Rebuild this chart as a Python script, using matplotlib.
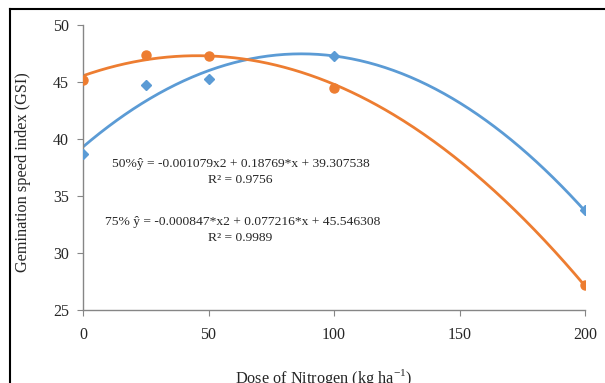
import numpy as np
import matplotlib
matplotlib.use("Agg")
import matplotlib.pyplot as plt
from matplotlib.lines import Line2D

plt.rcParams['font.family'] = ['Liberation Serif', 'DejaVu Serif']
plt.rcParams['mathtext.fontset'] = 'custom'
plt.rcParams['mathtext.rm'] = 'Liberation Serif'

doses = [0, 25, 50, 100, 200]
gsi_50 = [38.65, 44.7, 45.25, 47.25, 33.75]
gsi_75 = [45.2, 47.35, 47.3, 44.5, 27.15]
coef_50 = [-0.001079, 0.18769, 39.307538]
coef_75 = [-0.000847, 0.077216, 45.546308]
eq_50 = "50%ŷ = -0.001079x2 + 0.18769*x + 39.307538"
r2_50 = "R² = 0.9756"
eq_75 = "75% ŷ = -0.000847*x2 + 0.077216*x + 45.546308"
r2_75 = "R² = 0.9989"
xticks = [0, 50, 100, 150, 200]
yticks = [25, 30, 35, 40, 45, 50]

blue = '#5B9BD5'
orange = '#ED7D31'
txt = '#262626'

fig = plt.figure(figsize=(6.05, 3.83), dpi=100)
ax = fig.add_axes([83/605, 1-310/383, (585-83)/605, (310-25)/383])

xs = np.linspace(0, 200, 300)
ax.plot(xs, np.polyval(coef_50, xs), color=blue, lw=2, zorder=2)
ax.plot(xs, np.polyval(coef_75, xs), color=orange, lw=2, zorder=2)
ax.plot(doses, gsi_50, linestyle='none', marker='D', ms=5.5, color=blue, zorder=3)
ax.plot(doses, gsi_75, linestyle='none', marker='o', ms=6.5, color=orange, zorder=3)

ax.set_xlim(0, 200)
ax.set_ylim(25, 50)
ax.set_xticks(xticks)
ax.set_yticks(yticks)
for s in ['top', 'right']:
    ax.spines[s].set_visible(False)
for s in ['left', 'bottom']:
    ax.spines[s].set_color('#868686')
    ax.spines[s].set_linewidth(1.0)
ax.tick_params(axis='both', colors='#868686', labelcolor=txt, length=4, labelsize=11.5)
ax.tick_params(axis='x', pad=8)
ax.tick_params(axis='y', pad=6)

fig.text(23/605, 1-172/383, 'Gemination speed index (GSI)', fontsize=11.7, color=txt,
         rotation=90, ha='center', va='center')
fig.text(324/605, 1-378/383, 'Dose of Nitrogen (kg ha$^{\\mathregular{-1}}$)', fontsize=11.7,
         color=txt, ha='center', va='center')

fig.text(241/605, 1-164/383, eq_50, fontsize=9.7, ha='center', va='center', color=txt)
fig.text(240/605, 1-180/383, r2_50, fontsize=9.7, ha='center', va='center', color=txt)
fig.text(243/605, 1-222/383, eq_75, fontsize=9.7, ha='center', va='center', color=txt)
fig.text(240/605, 1-238/383, r2_75, fontsize=9.7, ha='center', va='center', color=txt)

fig.add_artist(Line2D([10/605, 1], [1-9/383, 1-9/383], color='black', lw=1.5))
fig.add_artist(Line2D([10/605, 10/605], [0, 1-9/383], color='black', lw=1.5))

fig.savefig('out.png', dpi=100)
